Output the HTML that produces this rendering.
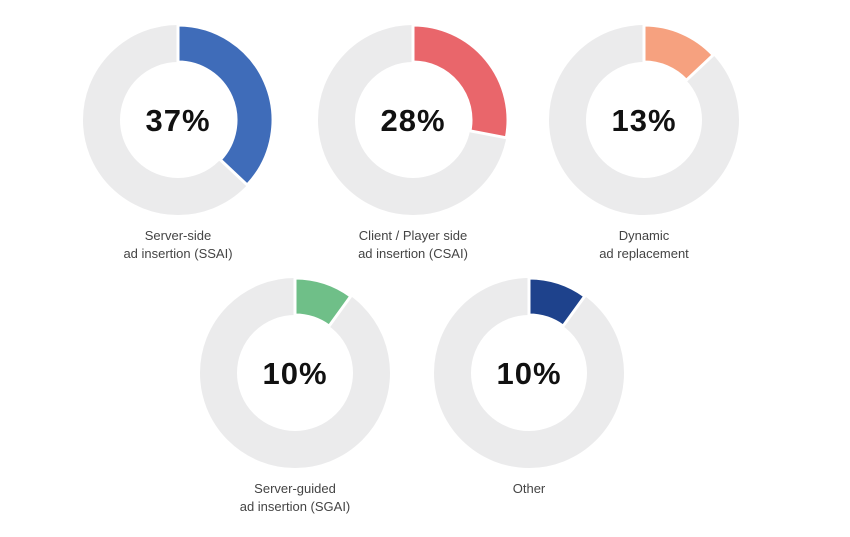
<!DOCTYPE html>
<html><head><meta charset="utf-8"><style>
body{margin:0;background:#fff;width:850px;height:532px;overflow:hidden;font-family:"Liberation Sans",sans-serif}
</style></head><body>
<svg id="c" width="850" height="532"></svg>
<script>
const categories=["Server-side|ad insertion (SSAI)","Client / Player side|ad insertion (CSAI)","Dynamic|ad replacement","Server-guided|ad insertion (SGAI)","Other"];
const values=[37,28,13,10,10];
const colors=["#3F6CB9","#E9666B","#F6A17F","#6FBF88","#1E428C"];
const centers=[[178,120],[413,120],[644,120],[295,373],[529,373]];
const NS="http://www.w3.org/2000/svg";
const svg=document.getElementById('c');
const R=95,r=58;
function pt(cx,cy,rad,a){return [cx+rad*Math.sin(a),cy-rad*Math.cos(a)];}
values.forEach((v,i)=>{
 const [cx,cy]=centers[i];
 const g=document.createElementNS(NS,'g');
 
 
 svg.appendChild(g);
 const bg=document.createElementNS(NS,'circle');
 
 
 bg.setAttribute('cx',cx);bg.setAttribute('cy',cy);bg.setAttribute('r',(R+r)/2);
 bg.setAttribute('fill','none');bg.setAttribute('stroke','#EBEBEC');bg.setAttribute('stroke-width',R-r);
 g.appendChild(bg);
 const a0=0,a1=v/100*2*Math.PI;
 const p1=pt(cx,cy,R,a0),p2=pt(cx,cy,R,a1),p3=pt(cx,cy,r,a1),p4=pt(cx,cy,r,a0);
 const lg=a1-a0>Math.PI?1:0;
 const path=document.createElementNS(NS,'path');
 
 
 path.setAttribute('d',`M${p1}A${R},${R} 0 ${lg} 1 ${p2}L${p3}A${r},${r} 0 ${lg} 0 ${p4}Z`);
 path.setAttribute('fill',colors[i]);path.setAttribute('stroke','#fff');path.setAttribute('stroke-width',3);
 g.appendChild(path);
 const t=document.createElementNS(NS,'text');
 
 
 t.setAttribute('x',cx);t.setAttribute('y',cy+11);t.setAttribute('text-anchor','middle');
 t.setAttribute('font-size','31');t.setAttribute('font-weight','bold');t.setAttribute('fill','#111');
 t.setAttribute('letter-spacing','1');
 t.textContent=v+'%';g.appendChild(t);
 categories[i].split('|').forEach((ln,j)=>{
  const l=document.createElementNS(NS,'text');
  
  
  l.setAttribute('x',cx);l.setAttribute('y',cy+120+j*18);l.setAttribute('text-anchor','middle');
  l.setAttribute('font-size','13');l.setAttribute('fill','#444');
  l.textContent=ln;g.appendChild(l);
 });
});
</script>
</body></html>
